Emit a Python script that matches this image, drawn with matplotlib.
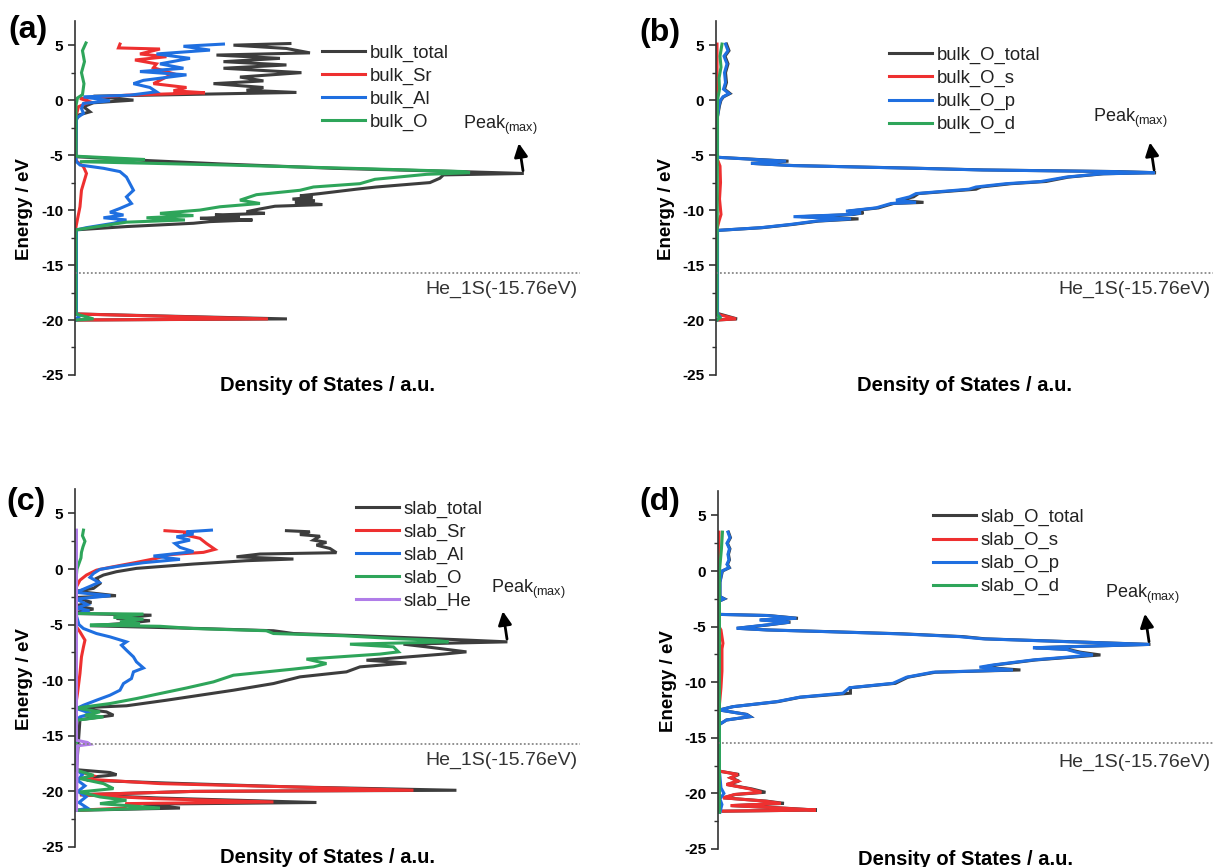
import numpy as np
import matplotlib
matplotlib.use('Agg')
import matplotlib.pyplot as plt
from matplotlib.ticker import MultipleLocator

plt.rcParams['font.family'] = ['Liberation Sans', 'DejaVu Sans']
plt.rcParams['mathtext.fontset'] = 'custom'
plt.rcParams['mathtext.rm'] = 'Liberation Sans'
plt.rcParams['axes.unicode_minus'] = False

# (energy eV, DOS a.u.)
a_total = [(5.15, 43), (5.0, 31.7), (4.7, 42.3), (4.3, 47), (4.1, 28.3), (3.8, 41), (3.5, 29.7), (3.2, 42.3),
           (2.9, 29.7), (2.5, 45.3), (2.1, 33), (1.75, 37.7), (1.5, 27.7), (1.15, 37.7), (0.9, 34.3), (0.7, 44.3),
           (0.36, 3.7), (0.0, 11.7), (-0.24, 3.7), (-0.6, 1.7), (-1.06, 3), (-1.36, 0.7), (-1.8, 0.3), (-5.15, 0.2),
           (-5.3, 7), (-5.5, 14.7), (-5.8, 29), (-6.2, 51.7), (-6.5, 77), (-6.67, 89.7), (-6.8, 73.7), (-7.1, 73),
           (-7.5, 71), (-7.9, 60.3), (-8.1, 56.3), (-8.5, 49), (-8.7, 45), (-8.85, 47.5), (-9.0, 43.5), (-9.15, 48),
           (-9.3, 44), (-9.5, 49.5), (-9.65, 40), (-9.9, 37), (-10.15, 34.3), (-10.3, 38), (-10.45, 28), (-10.6, 33),
           (-10.75, 25), (-10.9, 35.5), (-11.05, 27), (-11.2, 23.7), (-11.5, 10.3), (-11.8, 0.2), (-19.45, 0.2),
           (-19.9, 42.4), (-20.0, 0.2)]
a_sr = [(5.1, 9), (4.75, 8.7), (4.65, 17), (4.2, 13), (3.95, 18.3), (3.65, 12), (3.3, 16.3), (2.95, 15.7), (2.4, 19.7),
        (1.97, 17.7), (1.5, 15.7), (1.15, 22.3), (0.85, 19.7), (0.67, 26), (0.45, 10.3), (0.15, 1), (-0.15, 3),
        (-0.6, 0.7), (-1.5, 0.2), (-5.5, 0.2), (-6.06, 1.7), (-6.67, 2.3), (-8.2, 1.3), (-9.7, 1.0), (-11.3, 0.3),
        (-11.8, 0.1), (-19.45, 0.1), (-19.9, 38.6), (-20.0, 0.1)]
a_al = [(5.1, 29.7), (4.9, 21.7), (4.55, 27), (4.2, 16.3), (3.8, 23), (3.3, 17), (2.9, 21.7), (2.6, 13), (2.3, 22.3),
        (1.8, 13.7), (1.5, 11.7), (1.15, 15), (0.76, 16.3), (0.45, 11), (0.3, 1.7), (-0.06, 7), (-0.3, 1.7),
        (-0.76, 1.3), (-1.2, 1.7), (-1.65, 0.3), (-5.3, 0.2), (-5.6, 0.3), (-5.9, 1), (-6.2, 5.7), (-6.5, 9),
        (-7.0, 10.3), (-7.6, 11), (-8.2, 11.7), (-8.8, 10.3), (-9.4, 11.3), (-9.85, 9), (-10.2, 7), (-10.45, 9.7),
        (-10.7, 5.7), (-10.9, 10.3), (-11.2, 7.7), (-11.6, 2.3), (-11.8, 0.3), (-19.4, 0.3), (-19.7, 0.8),
        (-19.9, 0.2), (-20.0, 0.3)]
a_o = [(5.2, 2.2), (4.5, 1.5), (3.5, 1.9), (2.5, 1.3), (1.5, 1.8), (0.5, 1.5), (0.2, 0.5), (-0.5, 0.2), (-5.1, 0.2),
       (-5.4, 14), (-5.6, 1), (-5.9, 30), (-6.2, 55), (-6.5, 78), (-6.6, 79), (-6.75, 70.3), (-7.2, 60), (-7.6, 57),
       (-7.9, 47.7), (-8.2, 45), (-8.6, 36.3), (-9.1, 33), (-9.4, 37), (-9.7, 29), (-10.0, 25), (-10.3, 17),
       (-10.5, 23.7), (-10.7, 14.3), (-10.9, 22), (-11.1, 10.3), (-11.8, 0.2), (-19.45, 0.2), (-19.9, 3.7),
       (-20.0, 0.2)]

b_total = [(5.1, 2.1), (4.5, 2.6), (4.0, 1.8), (3.3, 2.4), (2.5, 1.9), (1.6, 2.1), (1.0, 1.7), (0.6, 2.8), (0.3, 1.5),
           (0.0, 1.0), (-0.5, 0.7), (-1.5, 0.3), (-5.1, 0.3), (-5.2, 0.4), (-5.4, 8.5), (-5.55, 14.5), (-5.75, 7),
           (-5.95, 15.5), (-6.2, 40.5), (-6.35, 53.5), (-6.5, 80.5), (-6.6, 88), (-6.7, 77.5), (-7.0, 70.5),
           (-7.4, 66), (-7.6, 59), (-7.9, 53), (-8.1, 52), (-8.5, 40.5), (-8.8, 39.5), (-9.1, 36.5), (-9.3, 41.5),
           (-9.4, 35.5), (-9.8, 32.5), (-10.1, 26.5), (-10.25, 29.5), (-10.4, 27.5), (-10.6, 17), (-10.8, 28.5),
           (-11.0, 20.5), (-11.3, 15.5), (-11.6, 9.3), (-11.85, 0.3), (-19.4, 0.3), (-19.9, 4.2), (-20.0, 0.2)]
b_s = [(5.1, 0.2), (-5.3, 0.2), (-6.0, 0.8), (-7.5, 0.9), (-9.0, 0.7), (-10.4, 1.0), (-11.0, 0.6), (-11.9, 0.1),
       (-19.45, 0.1), (-19.9, 4), (-20.0, 0.1)]
b_p = [(5.1, 1.9), (4.5, 2.4), (4.0, 1.6), (3.3, 2.2), (2.5, 1.7), (1.6, 1.9), (1.0, 1.5), (0.6, 2.6), (0.3, 1.4),
       (0.0, 0.9), (-0.5, 0.6), (-1.5, 0.3), (-5.1, 0.3), (-5.2, 0.4), (-5.4, 8), (-5.55, 14), (-5.75, 7),
       (-5.95, 15), (-6.2, 40), (-6.35, 53), (-6.5, 80), (-6.6, 87.7), (-6.7, 77), (-7.0, 70), (-7.4, 65),
       (-7.6, 58), (-7.9, 52), (-8.1, 50.6), (-8.5, 40), (-8.8, 38.7), (-9.1, 36), (-9.3, 40), (-9.4, 35),
       (-9.8, 32), (-10.1, 26), (-10.25, 29), (-10.4, 27), (-10.6, 15.5), (-10.8, 27), (-11.0, 20), (-11.3, 15),
       (-11.6, 9), (-11.85, 0.3), (-19.4, 0.3), (-19.7, 0.8), (-20.0, 0.2)]
b_d = [(5.1, 1.2), (4.0, 0.8), (3.0, 1.0), (2.0, 0.6), (1.0, 0.7), (0.0, 0.3), (-19.5, 0.2), (-19.8, 0.8),
       (-20.0, 0.2)]

c_total = [(3.45, 42.3), (3.35, 47), (3.1, 45), (2.95, 49), (2.6, 47.7), (2.4, 50.3), (2.15, 48.3), (1.85, 51),
           (1.47, 52.3), (1.35, 37), (1.1, 32.3), (0.9, 43.7), (0.75, 34.3), (0.45, 23.7), (0.06, 12.3), (-0.24, 8.3),
           (-0.54, 5.7), (-0.84, 4.3), (-1.3, 5), (-1.74, 3.7), (-2.0, 0.2), (-2.4, 8.2), (-2.56, 0.2), (-3.0, 3.3),
           (-3.3, 0.2), (-3.6, 3.7), (-3.9, 0.2), (-4.0, 0.3), (-4.15, 15.3), (-4.45, 8.3), (-4.65, 15), (-4.9, 9.7),
           (-5.1, 3), (-5.35, 25), (-5.55, 39.7), (-5.8, 43.7), (-6.0, 57), (-6.34, 75.7), (-6.55, 86.5),
           (-6.76, 65.7), (-7.0, 70.3), (-7.45, 78.3), (-7.65, 73.7), (-8.2, 58.3), (-8.45, 66.3), (-8.8, 57),
           (-9.25, 54.3), (-9.7, 45), (-10.3, 39.7), (-10.9, 31.7), (-11.35, 25), (-11.8, 18.3), (-12.3, 10.3),
           (-12.5, 0.3), (-12.85, 6.3), (-13.15, 7.7), (-13.55, 1), (-18.05, 0.3), (-18.3, 7), (-18.5, 8.3),
           (-18.7, 3.7), (-19.0, 3), (-19.25, 18.3), (-19.6, 43.7), (-19.9, 76.3), (-20.0, 23.7), (-20.3, 1),
           (-20.6, 17), (-21.0, 48.3), (-21.15, 13.7), (-21.5, 21), (-21.7, 0.3)]
c_sr = [(3.45, 18), (3.3, 23), (3.1, 21.7), (2.76, 25), (2.3, 26.3), (1.77, 28), (1.5, 25.7), (1.3, 19),
        (0.96, 16.3), (0.6, 12.3), (0.15, 7), (-0.1, 4.3), (-0.54, 2.3), (-1.0, 1), (-1.6, 0.3), (-5.2, 0.3),
        (-5.65, 1), (-6.4, 2), (-7.0, 1.7), (-7.9, 1.3), (-9.4, 1), (-11.2, 0.5), (-12.4, 0.1), (-18.1, 0.1),
        (-18.6, 3.7), (-18.9, 2.3), (-19.3, 17), (-19.6, 43.7), (-19.9, 67.7), (-20.0, 23.7), (-20.3, 1),
        (-20.65, 15.7), (-20.95, 39.7), (-21.1, 10.3), (-21.5, 10), (-21.7, 0.3)]
c_al = [(3.5, 27.3), (3.35, 22.3), (3.15, 23.7), (2.9, 20.3), (2.6, 23), (2.3, 20), (1.95, 21), (1.56, 23.7),
        (1.17, 15.7), (0.87, 21), (0.57, 13.7), (0.27, 9), (-0.03, 5), (-0.4, 3.7), (-0.75, 3), (-1.2, 4.8),
        (-1.5, 3.3), (-2.1, 0.2), (-2.4, 7.1), (-2.7, 0.2), (-3.2, 2.5), (-3.5, 0.2), (-3.75, 2.9), (-4.06, 0.2),
        (-5.0, 0.8), (-5.35, 1.7), (-5.8, 4.3), (-6.1, 7), (-6.55, 10.3), (-6.85, 9.3), (-7.3, 10.3), (-7.9, 11.7),
        (-8.35, 12.3), (-8.9, 13.7), (-9.25, 11.7), (-9.85, 11.3), (-10.3, 9.7), (-10.9, 9), (-11.35, 7),
        (-11.8, 4.3), (-12.25, 1.7), (-12.55, 0.3), (-13.0, 3.3), (-13.3, 1), (-13.6, 0.3), (-18.0, 0.3),
        (-18.5, 1.5), (-19.0, 0.5), (-19.5, 2), (-20.0, 0.6), (-20.5, 2.2), (-21.0, 0.8), (-21.5, 2.5), (-21.7, 0.5)]
c_o = [(3.5, 1.7), (3.0, 1.5), (2.5, 2.0), (2.0, 1.6), (1.5, 1.3), (1.0, 1.2), (0.5, 0.8), (0.0, 0.4), (-1.0, 0.2),
       (-4.0, 0.3), (-4.05, 13.7), (-4.35, 7.7), (-4.5, 13.7), (-4.75, 9), (-4.9, 13), (-5.05, 3), (-5.15, 17),
       (-5.35, 23.7), (-5.55, 38.3), (-5.8, 39.7), (-6.0, 53.7), (-6.25, 63.7), (-6.4, 71.7), (-6.55, 74.7),
       (-6.76, 55), (-7.0, 63.7), (-7.45, 64.7), (-7.65, 61), (-8.1, 46.3), (-8.5, 50.3), (-8.8, 47.7), (-9.0, 43.7),
       (-9.55, 31.7), (-10.15, 27.7), (-10.7, 22.3), (-11.2, 17), (-11.65, 12.3), (-12.1, 7), (-12.5, 0.3),
       (-12.85, 5), (-13.15, 2), (-13.3, 5.7), (-13.6, 0.3), (-18.1, 0.3), (-18.55, 3.7), (-18.85, 1), (-19.3, 5.7),
       (-19.75, 7.7), (-20.05, 1), (-20.5, 5), (-20.8, 10.3), (-21.1, 5), (-21.5, 17), (-21.7, 0.3)]
c_he = [(3.5, 0.3), (-15.4, 0.3), (-15.6, 2.5), (-15.76, 3), (-15.9, 0.5), (-21.7, 0.3)]

d_total = [(3.5, 2.1), (3.0, 2.5), (2.5, 1.9), (2.0, 2.4), (1.5, 2.1), (1.0, 2.3), (0.6, 1.9), (0.3, 2.3), (0.0, 0.9),
           (-1.0, 0.4), (-2.3, 0.4), (-2.5, 1.3), (-2.7, 0.3), (-3.9, 0.3), (-4.0, 10), (-4.25, 16), (-4.4, 8.5),
           (-4.6, 14.5), (-4.85, 10), (-5.15, 3.8), (-5.3, 10), (-5.45, 22), (-5.65, 37), (-5.9, 49), (-6.1, 53.5),
           (-6.4, 73.5), (-6.6, 86.5), (-6.9, 63.5), (-7.05, 70), (-7.3, 72.5), (-7.55, 76.5), (-8.0, 63.5),
           (-8.45, 55.5), (-8.65, 53), (-8.9, 60.5), (-9.1, 43.5), (-9.55, 38), (-10.1, 35.5), (-10.5, 26.5),
           (-10.99, 26.5), (-11.35, 16.5), (-11.75, 12), (-12.2, 3), (-12.5, 0.3), (-12.9, 5.8), (-13.1, 6.5),
           (-13.4, 1.7), (-13.8, 0.3), (-18.0, 0.3), (-18.3, 4.2), (-18.6, 2.6), (-18.9, 4.2), (-19.2, 1.8),
           (-19.6, 6.8), (-19.9, 9.5), (-20.1, 3.5), (-20.4, 1.1), (-20.7, 9.8), (-20.9, 13.2), (-21.1, 2.7),
           (-21.3, 12.2), (-21.5, 19.8), (-21.6, 1)]
d_s = [(3.5, 0.2), (-5.0, 0.2), (-5.3, 0.6), (-6.5, 1.0), (-7.0, 0.8), (-9.0, 0.8), (-10.5, 0.6), (-12.0, 0.3),
       (-18.0, 0.3), (-18.3, 4), (-18.6, 2.5), (-18.9, 4), (-19.2, 1.7), (-19.6, 6.4), (-19.9, 8.7), (-20.1, 3.3),
       (-20.4, 1), (-20.7, 9.5), (-20.9, 12.6), (-21.1, 2.5), (-21.3, 11.8), (-21.5, 19.6), (-21.6, 1)]
d_p = [(3.5, 2.0), (3.0, 2.4), (2.5, 1.8), (2.0, 2.3), (1.5, 2.0), (1.0, 2.2), (0.6, 1.8), (0.3, 2.2), (0.0, 0.8),
       (-1.0, 0.4), (-2.3, 0.4), (-2.5, 1.2), (-2.7, 0.3), (-3.9, 0.3), (-4.0, 9.7), (-4.25, 15.7), (-4.4, 8.3),
       (-4.6, 14.3), (-4.85, 9.7), (-5.15, 3.7), (-5.3, 9.7), (-5.45, 21.7), (-5.65, 36.3), (-5.9, 48.3),
       (-6.1, 53), (-6.4, 73), (-6.6, 86.3), (-6.9, 63), (-7.05, 69.7), (-7.3, 71.7), (-7.55, 75), (-8.0, 63),
       (-8.45, 55), (-8.65, 52.3), (-8.9, 59), (-9.1, 43), (-9.55, 37.7), (-10.1, 35), (-10.5, 26.3), (-10.99, 25),
       (-11.35, 16.3), (-11.75, 11.7), (-12.2, 3), (-12.5, 0.3), (-12.9, 5.7), (-13.1, 6.4), (-13.4, 1.7),
       (-13.8, 0.3), (-18.0, 0.3), (-19.5, 0.6), (-20.0, 1.2), (-20.5, 0.4), (-21.0, 0.8), (-21.7, 0.4)]
d_d = [(3.5, 0.9), (2.0, 0.7), (1.0, 0.5), (0.0, 0.3), (-21.7, 0.3)]

labels_a = ['bulk_total', 'bulk_Sr', 'bulk_Al', 'bulk_O']
labels_b = ['bulk_O_total', 'bulk_O_s', 'bulk_O_p', 'bulk_O_d']
labels_c = ['slab_total', 'slab_Sr', 'slab_Al', 'slab_O', 'slab_He']
labels_d = ['slab_O_total', 'slab_O_s', 'slab_O_p', 'slab_O_d']

he_level = -15.76
peaks = [(89.7, -6.67), (87.7, -6.6), (86.5, -6.55), (86.3, -6.6)]

colors = ['#3d3d3d', '#ee3030', '#1f6fe0', '#2ea55a', '#b07de8']

panels = [
    dict(tag='(a)', rect=[0.0617, 0.5675, 0.4156, 0.4083], xmax=101, series=[a_total, a_sr, a_al, a_o],
         labels=labels_a, leg=(0.489, 0.934), peak_txt=(77.6, -2.3), he_y=he_level, tagpos=(0.007, 0.965)),
    dict(tag='(b)', rect=[0.5893, 0.5675, 0.4091, 0.4083], xmax=99.4, series=[b_total, b_s, b_p, b_d],
         labels=labels_b, leg=(0.348, 0.927), peak_txt=(75.4, -1.7), he_y=he_level, tagpos=(0.526, 0.962)),
    dict(tag='(c)', rect=[0.0617, 0.0231, 0.4156, 0.4129], xmax=101, series=[c_total, c_sr, c_al, c_o, c_he],
         labels=labels_c, leg=(0.556, 0.968), peak_txt=(83.2, -1.8), he_y=he_level, tagpos=(0.005, 0.421)),
    dict(tag='(d)', rect=[0.5909, 0.0208, 0.4074, 0.4129], xmax=99.0, series=[d_total, d_s, d_p, d_d],
         labels=labels_d, leg=(0.434, 0.95), peak_txt=(77.4, -2.1), he_y=-15.5, tagpos=(0.526, 0.421)),
]

fig = plt.figure(figsize=(12.15, 8.67), dpi=100)

for i, p in enumerate(panels):
    ax = fig.add_axes(p['rect'])
    handles = []
    for k, s in enumerate(p['series']):
        arr = np.array(s)
        ln, = ax.plot(arr[:, 1], arr[:, 0], color=colors[k], lw=2.2, solid_joinstyle='miter')
        handles.append(ln)
    ax.set_xlim(0, p['xmax'])
    ax.set_ylim(-25, 7.2)
    for sp in ['top', 'right', 'bottom']:
        ax.spines[sp].set_visible(False)
    ax.spines['left'].set_color('#333333')
    ax.spines['left'].set_linewidth(1.2)
    ax.set_xticks([])
    ax.set_yticks(np.arange(-25, 6, 5))
    ax.yaxis.set_minor_locator(MultipleLocator(2.5))
    ax.tick_params(axis='y', which='major', direction='out', length=5, width=1.2, color='#333333',
                   labelsize=11, pad=3.5)
    ax.tick_params(axis='y', which='minor', direction='out', length=3, width=1.0, color='#333333')
    for t in ax.get_yticklabels():
        t.set_fontweight('bold')
    ax.set_ylabel('Energy / eV', fontsize=13.5, fontweight='bold')
    ax.yaxis.set_label_coords(-0.083, 0.47)
    ax.text(0.5, -0.004, 'Density of States / a.u.', transform=ax.transAxes, ha='center', va='top',
            fontsize=14.5, fontweight='bold')

    ax.axhline(p['he_y'], color='#888888', lw=1.3, ls=(0, (1, 1.2)))
    ax.text(0.995, -17.2, 'He_1S(-15.76eV)', ha='right', va='center', fontsize=14, color='#333333',
            transform=ax.get_yaxis_transform())

    px, py = peaks[i]
    ax.annotate('', xy=(px - 1.0, py + 3.0), xytext=(px, py),
                arrowprops=dict(arrowstyle='-|>', color='black', lw=2.0, mutation_scale=20))
    ax.text(p['peak_txt'][0], p['peak_txt'][1], 'Peak$_{\\mathrm{(max)}}$', fontsize=13, color='#222222',
            ha='left', va='center')

    ax.legend(handles, p['labels'], loc='upper left', bbox_to_anchor=p['leg'], frameon=False,
              fontsize=13.3, handlelength=2.33, handletextpad=0.27, labelspacing=0.32, borderpad=0,
              borderaxespad=0, labelcolor='#222222')

    fig.text(p['tagpos'][0], p['tagpos'][1], p['tag'], fontsize=23, fontweight='bold', va='center')

fig.savefig('out.png', dpi=100)
